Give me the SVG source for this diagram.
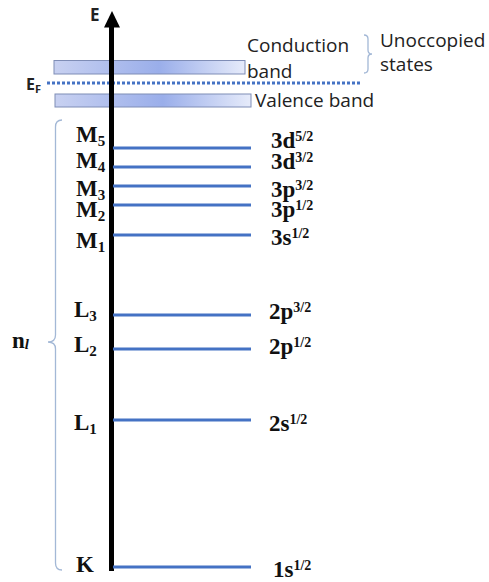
<svg xmlns="http://www.w3.org/2000/svg" width="489" height="582" viewBox="0 0 489 582">
<defs>
<linearGradient id="bandGrad" x1="0" y1="0" x2="1" y2="0">
<stop offset="0" stop-color="#C8D1F1"/>
<stop offset="0.55" stop-color="#9AAEEA"/>
<stop offset="1" stop-color="#E6EBFA"/>
</linearGradient>
<style>
.band{fill:url(#bandGrad);stroke:#7F8DB6;stroke-width:1}
.lvl{stroke:#4472C4;stroke-width:3}
.sans{font-family:"Open Sans","Liberation Sans",sans-serif;font-size:19px;fill:#222}
.ser{font-family:"Liberation Serif","Times New Roman",serif;font-weight:bold;font-size:23px;fill:#111}
.sub{font-size:15px}
.sup{font-size:14px}
.brace{fill:none;stroke:#A3B8D6;stroke-width:1.3}
</style>
</defs>
<g id="bands">
<rect id="conduction-band" class="band" x="54" y="60.5" width="191" height="13.5"/>
<rect id="valence-band" class="band" x="55" y="94" width="196" height="13"/>
</g>
<g id="fermi">
<line x1="47" y1="83" x2="362" y2="83" stroke="#4472C4" stroke-width="3" stroke-dasharray="3 2"/>
<text x="26" y="90" font-family="'Open Sans','Liberation Sans',sans-serif" font-weight="bold" font-size="16" fill="#222">E<tspan font-size="11" dy="3">F</tspan></text>
</g>
<g id="axis">
<line x1="111.5" y1="26" x2="111.5" y2="571" stroke="#000" stroke-width="5"/>
<polygon points="104,27.5 120,27.5 112,11" fill="#000"/>
<text x="90" y="21" font-family="'Open Sans','Liberation Sans',sans-serif" font-weight="bold" font-size="17" fill="#222">E</text>
</g>
<g id="band-labels">
<text class="sans" x="247" y="52">Conduction</text>
<text class="sans" x="247" y="78">band</text>
<text class="sans" x="255" y="107">Valence band</text>
<text class="sans" x="380" y="47">Unoccopied</text>
<text class="sans" x="380" y="71">states</text>
<path class="brace" d="M364,35 Q368,35 368,39 L368,50 Q368,54 372,54 Q368,54 368,58 L368,69 Q368,73 364,73"/>
</g>
<g id="connectors">
<line class="lvl" x1="113" y1="148" x2="251" y2="148"/>
<line class="lvl" x1="113" y1="167" x2="251" y2="167"/>
<line class="lvl" x1="113" y1="186" x2="251" y2="186"/>
<line class="lvl" x1="113" y1="205" x2="251" y2="205"/>
<line class="lvl" x1="113" y1="235" x2="251" y2="235"/>
<line class="lvl" x1="113" y1="315" x2="251" y2="315"/>
<line class="lvl" x1="113" y1="349" x2="251" y2="349"/>
<line class="lvl" x1="113" y1="420" x2="251" y2="420"/>
<line class="lvl" x1="113" y1="567" x2="251" y2="567"/>
</g>
<g id="nl-brace">
<path class="brace" d="M62,120 Q55.5,120 55.5,127 L55.5,335 Q55.5,342 48,342 Q55.5,342 55.5,349 L55.5,563 Q55.5,570 62,570"/>
<text class="ser" x="12" y="348">n<tspan font-style="italic" font-size="15" dy="1">l</tspan></text>
</g>
<g id="M5"><text class="ser" x="76" y="142">M<tspan class="sub" dy="4">5</tspan></text><text class="ser" x="271" y="148">3d<tspan class="sup" dy="-7">5/2</tspan></text></g>
<g id="M4"><text class="ser" x="76" y="168">M<tspan class="sub" dy="4">4</tspan></text><text class="ser" x="271" y="169">3d<tspan class="sup" dy="-7">3/2</tspan></text></g>
<g id="M3"><text class="ser" x="76" y="196">M<tspan class="sub" dy="4">3</tspan></text><text class="ser" x="271" y="197">3p<tspan class="sup" dy="-7">3/2</tspan></text></g>
<g id="M2"><text class="ser" x="76" y="217">M<tspan class="sub" dy="4">2</tspan></text><text class="ser" x="271" y="217">3p<tspan class="sup" dy="-7">1/2</tspan></text></g>
<g id="M1"><text class="ser" x="76" y="248">M<tspan class="sub" dy="4">1</tspan></text><text class="ser" x="271" y="245">3s<tspan class="sup" dy="-7">1/2</tspan></text></g>
<g id="L3"><text class="ser" x="74" y="317">L<tspan class="sub" dy="4">3</tspan></text><text class="ser" x="269" y="319">2p<tspan class="sup" dy="-7">3/2</tspan></text></g>
<g id="L2"><text class="ser" x="74" y="352">L<tspan class="sub" dy="4">2</tspan></text><text class="ser" x="269" y="354">2p<tspan class="sup" dy="-7">1/2</tspan></text></g>
<g id="L1"><text class="ser" x="74" y="430">L<tspan class="sub" dy="4">1</tspan></text><text class="ser" x="269" y="431">2s<tspan class="sup" dy="-7">1/2</tspan></text></g>
<g id="K"><text class="ser" x="76" y="572">K</text><text class="ser" x="273" y="577">1s<tspan class="sup" dy="-7">1/2</tspan></text></g>
</svg>
